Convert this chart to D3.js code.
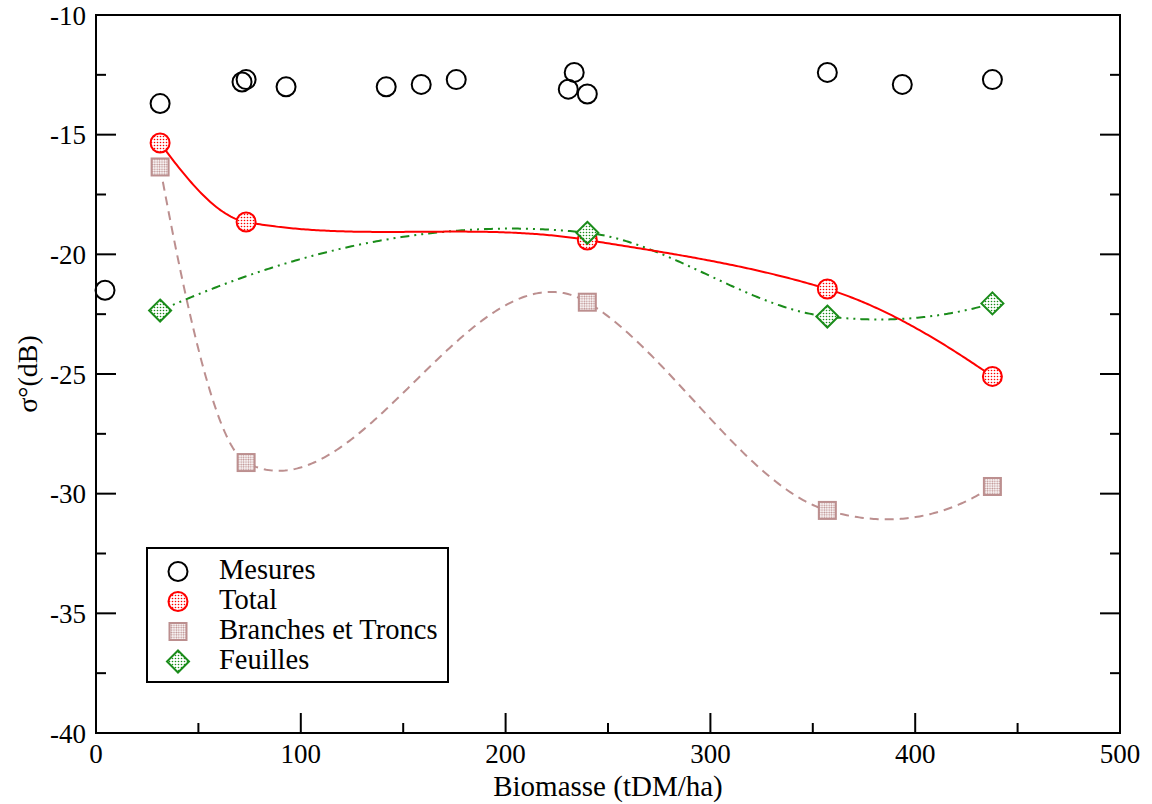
<!DOCTYPE html>
<html><head><meta charset="utf-8">
<script src="https://cdn.jsdelivr.net/npm/d3@7"></script>
<style>body{margin:0;background:#fff}svg{display:block}text{font-family:"Liberation Serif","Times New Roman",serif}</style>
</head><body><svg id="c" width="1152" height="804"></svg>
<script>
// ---- data ----
const mesuresX = [4.4, 31.3, 71.3, 73.3, 92.8, 141.7, 158.8, 175.9, 230.6, 233.5, 239.9, 357.1, 393.7, 437.7];
const mesuresY = [-21.5, -13.7, -12.8, -12.7, -13.0, -13.0, -12.9, -12.7, -13.1, -12.4, -13.3, -12.4, -12.9, -12.7];
const totalX = [31.3, 73.3, 239.9, 357.1, 437.7];
const totalY = [-15.35, -18.65, -19.4, -21.45, -25.1];
const branchesX = [31.3, 73.3, 239.9, 357.1, 437.7];
const branchesY = [-16.35, -28.7, -22.0, -30.7, -29.7];
const feuillesX = [31.3, 239.9, 357.1, 437.7];
const feuillesY = [-22.35, -19.1, -22.6, -22.05];
const xTicks = [0, 100, 200, 300, 400, 500];
const yTicks = [-40, -35, -30, -25, -20, -15, -10];
const legendLabels = ["Mesures", "Total", "Branches et Troncs", "Feuilles"];

const svg = d3.select("#c");
const L = 96, R = 1120, T = 15, B = 733;
const x = d3.scaleLinear().domain([0, 500]).range([L, R]);
const y = d3.scaleLinear().domain([-40, -10]).range([B, T]);

// patterns
const defs = svg.append("defs");
function dotPattern(id, color, step, r) {
  const p = defs.append("pattern").attr("id", id).attr("patternUnits", "userSpaceOnUse")
    .attr("width", step).attr("height", step);
  p.append("rect").attr("width", step).attr("height", step).attr("fill", "#fff");
  p.append("circle").attr("cx", step / 2).attr("cy", step / 2).attr("r", r).attr("fill", color);
}
dotPattern("pRed", "#ff0000", 3, 0.8);
dotPattern("pBrown", "#bc8f8f", 2.4, 0.9);
dotPattern("pGreen", "#1a8c1a", 3, 0.8);

// Akima spline (y as a function of x), rendered through the scales
function akima(xs, ys) {
  const n = xs.length, m = [];
  for (let i = 0; i < n - 1; i++) m[i] = (ys[i + 1] - ys[i]) / (xs[i + 1] - xs[i]);
  const mm = new Array(n + 3);
  for (let i = 0; i < n - 1; i++) mm[i + 2] = m[i];
  mm[1] = 2 * mm[2] - mm[3]; mm[0] = 2 * mm[1] - mm[2];
  mm[n + 1] = 2 * mm[n] - mm[n - 1]; mm[n + 2] = 2 * mm[n + 1] - mm[n];
  const t = [];
  for (let i = 0; i < n; i++) {
    const w1 = Math.abs(mm[i + 3] - mm[i + 2]), w2 = Math.abs(mm[i + 1] - mm[i]);
    t[i] = (w1 + w2 < 1e-12) ? (mm[i + 1] + mm[i + 2]) / 2 : (w1 * mm[i + 1] + w2 * mm[i + 2]) / (w1 + w2);
  }
  return function (v) {
    let i = n - 2;
    for (let k = 0; k < n - 1; k++) if (v <= xs[k + 1]) { i = k; break; }
    const h = xs[i + 1] - xs[i], s = (v - xs[i]) / h;
    const h00 = 2 * s ** 3 - 3 * s * s + 1, h10 = s ** 3 - 2 * s * s + s, h01 = -2 * s ** 3 + 3 * s * s, h11 = s ** 3 - s * s;
    return h00 * ys[i] + h10 * h * t[i] + h01 * ys[i + 1] + h11 * h * t[i + 1];
  };
}
function curvePath(xs, ys) {
  const f = akima(xs, ys);
  const pts = d3.range(0, 401).map(k => {
    const v = xs[0] + (xs[xs.length - 1] - xs[0]) * k / 400;
    return [v, f(v)];
  });
  return d3.line().x(d => x(d[0])).y(d => y(d[1]))(pts);
}

// curves
svg.append("path").attr("d", curvePath(branchesX, branchesY)).attr("fill", "none")
  .attr("stroke", "#bc8f8f").attr("stroke-width", 2).attr("stroke-dasharray", "9,6");
svg.append("path").attr("d", curvePath(feuillesX, feuillesY)).attr("fill", "none")
  .attr("stroke", "#1a8c1a").attr("stroke-width", 2).attr("stroke-dasharray", "9,5,2,5,2,5");
svg.append("path").attr("d", curvePath(totalX, totalY)).attr("fill", "none")
  .attr("stroke", "#ff0000").attr("stroke-width", 2);

// markers
function circleM(g, cx, cy, stroke, fill) {
  g.append("circle").attr("cx", cx).attr("cy", cy).attr("r", 9.5).attr("fill", fill)
    .attr("stroke", stroke).attr("stroke-width", 2);
}
function squareM(g, cx, cy) {
  g.append("rect").attr("x", cx - 8.5).attr("y", cy - 8.5).attr("width", 17).attr("height", 17)
    .attr("fill", "url(#pBrown)").attr("stroke", "#bc8f8f").attr("stroke-width", 2);
}
function diamondM(g, cx, cy) {
  const s = 11;
  g.append("path").attr("d", `M${cx},${cy - s}L${cx + s},${cy}L${cx},${cy + s}L${cx - s},${cy}Z`)
    .attr("fill", "url(#pGreen)").attr("stroke", "#1a8c1a").attr("stroke-width", 2);
}
const gm = svg.append("g");
mesuresX.forEach((v, i) => circleM(gm, x(v), y(mesuresY[i]), "#000", "none"));
branchesX.forEach((v, i) => squareM(gm, x(v), y(branchesY[i])));
totalX.forEach((v, i) => circleM(gm, x(v), y(totalY[i]), "#ff0000", "url(#pRed)"));
feuillesX.forEach((v, i) => diamondM(gm, x(v), y(feuillesY[i])));

// frame and ticks (bottom, left, right)
const ga = svg.append("g").attr("stroke", "#000").attr("stroke-width", 2);
ga.append("rect").attr("x", L).attr("y", T).attr("width", R - L).attr("height", B - T).attr("fill", "none");
const xMinor = d3.range(0, 501, 50), yMinor = d3.range(-40, -9, 2.5);
xMinor.forEach(v => {
  const len = xTicks.includes(v) ? 20 : 10;
  ga.append("line").attr("x1", x(v)).attr("x2", x(v)).attr("y1", B).attr("y2", B - len);
});
yMinor.forEach(v => {
  const len = yTicks.includes(v) ? 20 : 10;
  ga.append("line").attr("y1", y(v)).attr("y2", y(v)).attr("x1", L).attr("x2", L + len);
  ga.append("line").attr("y1", y(v)).attr("y2", y(v)).attr("x1", R).attr("x2", R - len);
});

// tick labels
xTicks.forEach(v => svg.append("text").attr("x", x(v)).attr("y", 763).attr("text-anchor", "middle")
  .attr("font-size", 27).text(v));
yTicks.forEach(v => svg.append("text").attr("x", 86).attr("y", y(v) + 9.5).attr("text-anchor", "end")
  .attr("font-size", 27).text(v));

// axis titles
svg.append("text").attr("x", 608).attr("y", 796).attr("text-anchor", "middle")
  .attr("font-size", 29).text("Biomasse (tDM/ha)");
svg.append("text").attr("transform", `translate(37,374) rotate(-90)`).attr("text-anchor", "middle")
  .attr("font-size", 28).text("σ°(dB)");

// legend
const lg = svg.append("g");
lg.append("rect").attr("x", 147).attr("y", 548).attr("width", 301).attr("height", 134)
  .attr("fill", "#fff").attr("stroke", "#000").attr("stroke-width", 2);
const rowsY = [571.5, 601.5, 631.5, 661.5];
circleM(lg, 178, rowsY[0], "#000", "none");
circleM(lg, 178, rowsY[1], "#ff0000", "url(#pRed)");
squareM(lg, 178, rowsY[2]);
diamondM(lg, 178, rowsY[3]);
legendLabels.forEach((t, i) => lg.append("text").attr("x", 219).attr("y", rowsY[i] + 7)
  .attr("font-size", 28.5).text(t));
</script></body></html>
